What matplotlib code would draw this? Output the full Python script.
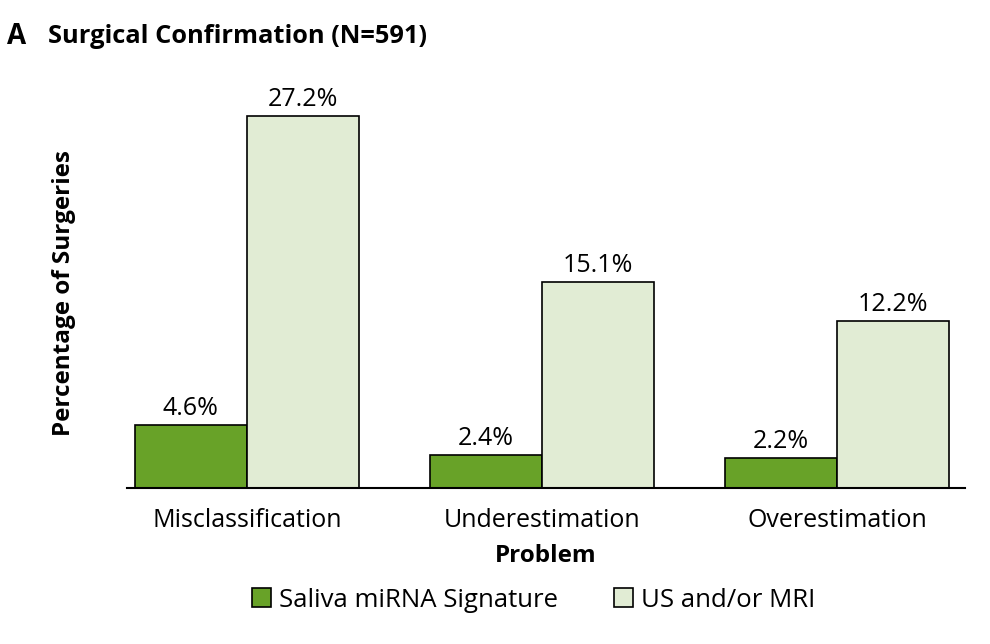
import matplotlib
matplotlib.use("Agg")
import matplotlib.pyplot as plt
import numpy as np

# data
problems = ["Misclassification", "Underestimation", "Overestimation"]
saliva = [4.6, 2.4, 2.2]
imaging = [27.2, 15.1, 12.2]
series_names = ["Saliva miRNA Signature", "US and/or MRI"]

plt.rcParams['font.family'] = ['Open Sans', 'DejaVu Sans']

dark_green = '#68a228'
light_green = '#e1ecd4'

fig = plt.figure(figsize=(9.9, 6.44), dpi=100)
ax = fig.add_axes([0.128, 0.242, 0.847, 0.637])

x = np.arange(len(problems))
w = 0.38
b1 = ax.bar(x - w / 2, saliva, w, color=dark_green, edgecolor='black', linewidth=1.2,
            label=series_names[0])
b2 = ax.bar(x + w / 2, imaging, w, color=light_green, edgecolor='black', linewidth=1.2,
            label=series_names[1])

# value labels above bars
for bars, vals in [(b1, saliva), (b2, imaging)]:
    for rect, v in zip(bars, vals):
        ax.text(rect.get_x() + rect.get_width() / 2, v + 0.3, f"{v:.1f}%",
                ha='center', va='bottom', fontsize=18)

ax.set_xlim(-0.407, 2.434)
ax.set_ylim(0, 30)
ax.set_xticks(x)
ax.set_xticklabels(problems, fontsize=18)
ax.set_yticks([])
ax.tick_params(axis='x', length=0, pad=14)

for s in ['top', 'right', 'left']:
    ax.spines[s].set_visible(False)
ax.spines['bottom'].set_linewidth(1.5)

ax.set_xlabel("Problem", fontsize=17.5, fontweight='bold', labelpad=8)
ax.set_ylabel("Percentage of Surgeries", fontsize=17.5, fontweight='bold')
ax.yaxis.set_label_coords(-0.06, 0.475)

# panel title
fig.text(0.007, 0.944, "A", fontsize=20, fontweight='bold', va='center')
fig.text(0.048, 0.944, "Surgical Confirmation (N=591)", fontsize=18.3, fontweight='bold', va='center')

fig.legend(handles=[b1, b2], labels=series_names, loc='center', bbox_to_anchor=(0.539, 0.068),
           ncol=2, frameon=False, fontsize=18.5, handlelength=0.75, handleheight=0.75,
           handletextpad=0.3, columnspacing=2.2)

fig.savefig("out.png", dpi=100)
